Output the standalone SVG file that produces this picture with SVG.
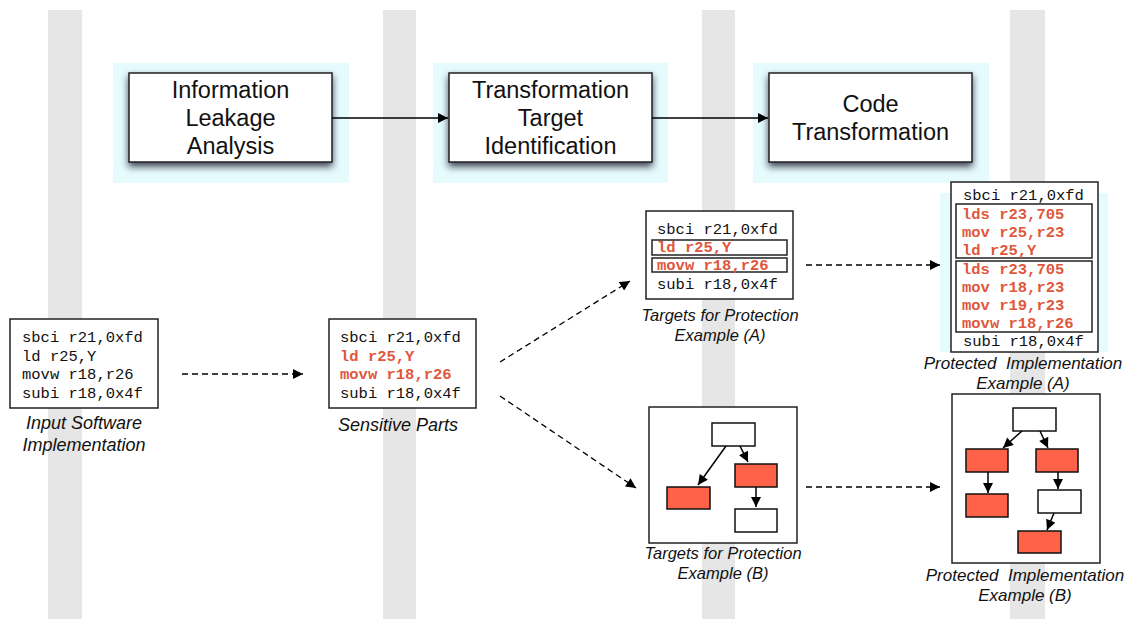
<svg xmlns="http://www.w3.org/2000/svg" width="1125" height="619" viewBox="0 0 1125 619">
<style>
.band{fill:#e6e6e6}
.halo{fill:#e6fbfd}
.stage{fill:#fff;stroke:#222;stroke-width:1.5}
.stxt{font-family:"Liberation Sans",Arial,sans-serif;font-size:23.5px;fill:#111;text-anchor:middle}
.box{fill:#fff;stroke:#222;stroke-width:1.5}
.code{font-family:"Liberation Mono","Courier New",monospace;font-size:15.5px;fill:#111}
.hot{font-family:"Liberation Mono","Courier New",monospace;font-size:15.5px;fill:#e0573c;font-weight:bold}
.cap{font-family:"Liberation Sans",Arial,sans-serif;font-style:italic;fill:#111;text-anchor:middle;white-space:pre}
.w{fill:#fff;stroke:#111;stroke-width:1.5}
.r{fill:#ff6149;stroke:#111;stroke-width:1.5}
.solid{stroke:#000;stroke-width:1.5;fill:none}
.dash{stroke:#000;stroke-width:1.3;fill:none;stroke-dasharray:6 4}
</style>
<defs>
<marker id="ah" viewBox="0 0 10 10" refX="10" refY="5" markerWidth="11" markerHeight="10" markerUnits="userSpaceOnUse" orient="auto">
<path d="M0,0 L10,5 L0,10 z" fill="#000"/>
</marker>
<marker id="ahs" viewBox="0 0 10 10" refX="10" refY="5" markerWidth="11" markerHeight="10" markerUnits="userSpaceOnUse" orient="auto">
<path d="M0,0 L10,5 L0,10 z" fill="#000"/>
</marker>
<filter id="sh" x="-10%" y="-10%" width="120%" height="135%">
<feDropShadow dx="0" dy="4" stdDeviation="3.5" flood-color="#141a2a" flood-opacity="0.8"/>
</filter>
</defs>

<g id="bands">
<rect class="band" x="48" y="10" width="34" height="609"/>
<rect class="band" x="383" y="10" width="33" height="609"/>
<rect class="band" x="702" y="10" width="33" height="609"/>
<rect class="band" x="1010" y="10" width="35" height="609"/>
</g>

<g id="stage1">
<rect class="halo" x="113" y="63" width="236" height="120"/>
<rect class="stage" x="129" y="73" width="203" height="89" filter="url(#sh)"/>
<text class="stxt" x="230.5" y="98">Information</text>
<text class="stxt" x="230.5" y="126">Leakage</text>
<text class="stxt" x="230.5" y="154">Analysis</text>
</g>
<g id="stage2">
<rect class="halo" x="433" y="63" width="235" height="120"/>
<rect class="stage" x="449" y="73" width="203" height="89" filter="url(#sh)"/>
<text class="stxt" x="550.5" y="98">Transformation</text>
<text class="stxt" x="550.5" y="126">Target</text>
<text class="stxt" x="550.5" y="154">Identification</text>
</g>
<g id="stage3">
<rect class="halo" x="753" y="63" width="236" height="120"/>
<rect class="stage" x="769" y="73" width="203" height="89" filter="url(#sh)"/>
<text class="stxt" x="870.5" y="112">Code</text>
<text class="stxt" x="870.5" y="140">Transformation</text>
</g>

<g id="input">
<rect class="box" x="10" y="319" width="148" height="89"/>
<text class="code" x="22" y="342">sbci r21,0xfd</text>
<text class="code" x="22" y="360.5">ld r25,Y</text>
<text class="code" x="22" y="379">movw r18,r26</text>
<text class="code" x="22" y="397.5">subi r18,0x4f</text>
<text class="cap" font-size="18" x="84" y="429">Input Software</text>
<text class="cap" font-size="18" x="84" y="451">Implementation</text>
</g>

<g id="sensitive">
<rect class="box" x="329" y="319" width="147" height="89"/>
<text class="code" x="340" y="342">sbci r21,0xfd</text>
<text class="hot" x="340" y="360.5">ld r25,Y</text>
<text class="hot" x="340" y="379">movw r18,r26</text>
<text class="code" x="340" y="397.5">subi r18,0x4f</text>
<text class="cap" font-size="18" x="398" y="431">Sensitive Parts</text>
</g>

<g id="targetsA">
<rect class="box" x="646" y="211" width="147" height="88"/>
<text class="code" x="657" y="234">sbci r21,0xfd</text>
<rect class="box" x="652" y="240" width="135" height="15"/>
<text class="hot" x="657" y="252">ld r25,Y</text>
<rect class="box" x="652" y="258" width="135" height="14"/>
<text class="hot" x="657" y="269.5">movw r18,r26</text>
<text class="code" x="657" y="289">subi r18,0x4f</text>
<text class="cap" font-size="16.5" x="720" y="321">Targets for Protection</text>
<text class="cap" font-size="16.5" x="720" y="341">Example (A)</text>
</g>

<g id="protectedA">
<rect class="halo" x="940" y="193" width="168" height="159"/>
<rect class="box" x="951" y="182" width="147" height="170"/>
<text class="code" x="963" y="200">sbci r21,0xfd</text>
<rect class="box" x="956" y="204" width="136" height="54"/>
<text class="hot" x="962" y="219">lds r23,705</text>
<text class="hot" x="962" y="237">mov r25,r23</text>
<text class="hot" x="962" y="255">ld r25,Y</text>
<rect class="box" x="956" y="261" width="136" height="71"/>
<text class="hot" x="962" y="274">lds r23,705</text>
<text class="hot" x="962" y="292">mov r18,r23</text>
<text class="hot" x="962" y="310">mov r19,r23</text>
<text class="hot" x="962" y="328">movw r18,r26</text>
<text class="code" x="963" y="346">subi r18,0x4f</text>
<text class="cap" font-size="17" x="1023" y="369" xml:space="preserve">Protected  Implementation</text>
<text class="cap" font-size="17" x="1023" y="389">Example (A)</text>
</g>

<g id="targetsB">
<rect class="box" x="649" y="407" width="148" height="136"/>
<rect class="w" x="712" y="423" width="43" height="23"/>
<rect class="r" x="667" y="487" width="43" height="22"/>
<rect class="r" x="735" y="464" width="42" height="23"/>
<rect class="w" x="735" y="509" width="42" height="23"/>
<line class="solid" x1="726" y1="446" x2="698" y2="485" marker-end="url(#ahs)"/>
<line class="solid" x1="740" y1="446" x2="748" y2="462" marker-end="url(#ahs)"/>
<line class="solid" x1="756" y1="487" x2="756" y2="507" marker-end="url(#ahs)"/>
<text class="cap" font-size="16.5" x="723" y="559">Targets for Protection</text>
<text class="cap" font-size="16.5" x="723" y="579">Example (B)</text>
</g>

<g id="protectedB">
<rect class="box" x="952" y="394" width="148" height="169"/>
<rect class="w" x="1013" y="408" width="43" height="23"/>
<rect class="r" x="966" y="449" width="42" height="23"/>
<rect class="r" x="1036" y="449" width="42" height="23"/>
<rect class="r" x="966" y="494" width="42" height="23"/>
<rect class="w" x="1038" y="490" width="43" height="23"/>
<rect class="r" x="1018" y="531" width="43" height="22"/>
<line class="solid" x1="1022" y1="431" x2="1003" y2="448" marker-end="url(#ahs)"/>
<line class="solid" x1="1040" y1="431" x2="1048" y2="448" marker-end="url(#ahs)"/>
<line class="solid" x1="988" y1="472" x2="988" y2="493" marker-end="url(#ahs)"/>
<line class="solid" x1="1058" y1="472" x2="1058" y2="489" marker-end="url(#ahs)"/>
<line class="solid" x1="1054" y1="513" x2="1047" y2="530" marker-end="url(#ahs)"/>
<text class="cap" font-size="17" x="1025" y="581" xml:space="preserve">Protected  Implementation</text>
<text class="cap" font-size="17" x="1025" y="601">Example (B)</text>
</g>

<g id="connectors">
<line class="solid" x1="332" y1="118" x2="448" y2="118" marker-end="url(#ah)"/>
<line class="solid" x1="652" y1="118" x2="768" y2="118" marker-end="url(#ah)"/>
<line class="dash" x1="182" y1="374" x2="303" y2="374" marker-end="url(#ah)"/>
<line class="dash" x1="500" y1="362" x2="630" y2="281" marker-end="url(#ah)"/>
<line class="dash" x1="500" y1="396" x2="636" y2="488" marker-end="url(#ah)"/>
<line class="dash" x1="806" y1="265" x2="940" y2="265" marker-end="url(#ah)"/>
<line class="dash" x1="806" y1="487" x2="940" y2="487" marker-end="url(#ah)"/>
</g>
</svg>
